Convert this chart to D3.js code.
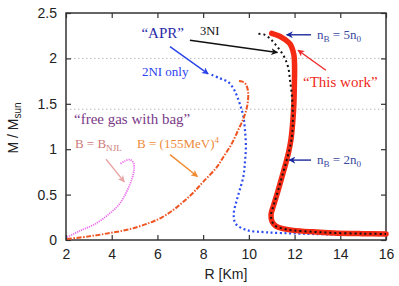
<!DOCTYPE html>
<html>
<head>
<meta charset="utf-8">
<script src="https://cdn.jsdelivr.net/npm/d3@7"></script>
<style>
  body { margin: 0; background: #fff; }
  svg text { font-family: "Liberation Sans", Arial, sans-serif; }
  .ann { font-family: "Liberation Serif", "Times New Roman", serif; }
</style>
</head>
<body>
<div class="mr-chart"></div>
<script>
// mass-radius curves, [R km, M/Msun]
var thisWork = [[11.0,2.275],[11.45,2.23],[11.8,2.16],[11.97,2.04],[12.0,1.9],[11.99,1.7],[11.97,1.5],[11.92,1.3],[11.85,1.12],[11.75,0.98],[11.6,0.83],[11.42,0.67],[11.25,0.52],[11.08,0.38],[10.97,0.28],[11.02,0.2],[11.2,0.15],[11.55,0.122],[11.95,0.106],[12.8,0.09],[13.7,0.078],[15.0,0.07],[16.0,0.066]];
var threeNI = [[10.42,2.27],[10.65,2.265],[10.92,2.22],[11.14,2.16],[11.36,2.09],[11.58,2.0],[11.73,1.89],[11.8,1.76],[11.87,1.62],[11.92,1.43],[11.92,1.25],[11.86,1.1],[11.75,0.97],[11.6,0.83],[11.42,0.67],[11.25,0.52],[11.08,0.38],[10.97,0.28],[11.02,0.2],[11.2,0.15],[11.55,0.122],[11.95,0.106],[12.8,0.09],[13.7,0.078],[15.0,0.07],[16.0,0.066]];
var twoNI = [[8.37,1.82],[8.74,1.78],[9.1,1.74],[9.32,1.67],[9.49,1.58],[9.64,1.47],[9.76,1.36],[9.83,1.21],[9.87,1.03],[9.83,0.86],[9.76,0.7],[9.6,0.55],[9.45,0.42],[9.34,0.29],[9.42,0.18],[9.9,0.11],[10.78,0.085],[12.24,0.07],[14.0,0.06],[16.0,0.055]];
var bag155 = [[2.05,0.01],[3.0,0.04],[3.92,0.077],[4.8,0.12],[5.67,0.19],[6.2,0.25],[6.69,0.33],[7.13,0.42],[7.6,0.53],[8.0,0.64],[8.59,0.8],[8.9,0.92],[9.25,1.06],[9.55,1.22],[9.78,1.35],[9.93,1.48],[9.97,1.62],[9.88,1.71],[9.72,1.745],[9.5,1.75]];
var bagNJL = [[2.05,0.03],[2.6,0.1],[3.3,0.18],[3.9,0.29],[4.35,0.4],[4.65,0.53],[4.88,0.67],[4.98,0.78],[4.95,0.85],[4.8,0.885],[4.58,0.87],[4.38,0.84]];

var xTicks = [2, 4, 6, 8, 10, 12, 14, 16];
var yTicks = [0, 0.5, 1, 1.5, 2, 2.5];
var refMasses = [2.0, 1.44];

var width = 399, height = 286;
var margin = {top: 13, right: 13, bottom: 46, left: 66};
var w = width - margin.left - margin.right,
    h = height - margin.top - margin.bottom;

var x = d3.scaleLinear().domain([2, 16]).range([0, w]);
var y = d3.scaleLinear().domain([0, 2.5]).range([h, 0]);

var svg = d3.select('.mr-chart').append('svg').attr('width', width).attr('height', height);
var defs = svg.append('defs');
function marker(id, color) {
  defs.append('marker').attr('id', id).attr('viewBox', '0 0 10 10').attr('refX', 9).attr('refY', 5)
    .attr('markerWidth', 7).attr('markerHeight', 7).attr('markerUnits', 'userSpaceOnUse').attr('orient', 'auto')
    .append('path').attr('d', 'M0,0 L10,5 L0,10 L3,5 z').attr('fill', color);
}
marker('ah-black', '#111');
marker('ah-blue', '#2a44e8');
marker('ah-navy', '#1c2a9c');
marker('ah-red', '#ee2a2a');
marker('ah-pink', '#e8a4a4');
marker('ah-orange', '#f08a30');

var g = svg.append('g').attr('transform', 'translate(' + margin.left + ',' + margin.top + ')');

// reference mass lines
g.selectAll('.ref').data(refMasses).enter().append('line')
  .attr('x1', 0).attr('x2', w).attr('y1', d => y(d)).attr('y2', d => y(d))
  .attr('stroke', '#bbb').attr('stroke-width', 1).attr('stroke-dasharray', '1.5,2.5');

// axes (inward ticks on all four sides)
g.append('g').attr('transform', 'translate(0,' + h + ')')
  .call(d3.axisBottom(x).tickValues(xTicks).tickSizeInner(-5).tickSizeOuter(0).tickPadding(9).tickFormat(d3.format('d')));
g.append('g').call(d3.axisTop(x).tickValues(xTicks).tickSizeInner(-5).tickSizeOuter(0).tickFormat(''));
g.append('g').call(d3.axisLeft(y).tickValues(yTicks).tickSizeInner(-5).tickSizeOuter(0).tickPadding(9).tickFormat(d => d));
g.append('g').attr('transform', 'translate(' + w + ',0)')
  .call(d3.axisRight(y).tickValues(yTicks).tickSizeInner(-5).tickSizeOuter(0).tickFormat(''));
g.selectAll('.domain').remove();
g.selectAll('.tick line').attr('stroke', '#333').attr('stroke-width', 1.2);
g.selectAll('.tick text').attr('font-size', 14).attr('fill', '#222');
g.append('rect').attr('width', w).attr('height', h).attr('fill', 'none').attr('stroke', '#333').attr('stroke-width', 1.5);

// curves
var line = d3.line().x(d => x(d[0])).y(d => y(d[1])).curve(d3.curveCatmullRom);
g.append('path').attr('d', line(twoNI)).attr('fill', 'none').attr('stroke', '#2c4cf0')
  .attr('stroke-width', 2.2).attr('stroke-dasharray', '2,2.6');
g.append('path').attr('d', line(bag155)).attr('fill', 'none').attr('stroke', '#ee5522')
  .attr('stroke-width', 2).attr('stroke-dasharray', '5,1.5,1.5,1.5');
g.append('path').attr('d', line(bagNJL)).attr('fill', 'none').attr('stroke', '#ec6cec')
  .attr('stroke-width', 1.8).attr('stroke-dasharray', '1.2,1');
g.append('path').attr('d', line(thisWork)).attr('fill', 'none').attr('stroke', '#f42a14')
  .attr('stroke-width', 5.5).attr('stroke-linecap', 'round');
g.append('path').attr('d', line(threeNI)).attr('fill', 'none').attr('stroke', '#111')
  .attr('stroke-width', 2).attr('stroke-dasharray', '2,3');

// annotation arrows [x1,y1,x2,y2] in data units
function arrow(p, color, mk) {
  g.append('line').attr('x1', x(p[0])).attr('y1', y(p[1])).attr('x2', x(p[2])).attr('y2', y(p[3]))
    .attr('stroke', color).attr('stroke-width', 1.4).attr('marker-end', 'url(#' + mk + ')');
}
arrow([7.42, 2.2, 11.25, 2.065], '#111', 'ah-black');
arrow([6.55, 2.13, 8.22, 1.83], '#2a44e8', 'ah-blue');
arrow([12.72, 2.26, 11.65, 2.26], '#1c2a9c', 'ah-navy');
arrow([13.37, 1.87, 12.15, 2.09], '#ee2a2a', 'ah-red');
arrow([12.72, 0.88, 11.76, 0.88], '#1c2a9c', 'ah-navy');
arrow([3.75, 0.89, 4.55, 0.64], '#e8a4a4', 'ah-pink');
arrow([6.55, 0.94, 7.75, 0.70], '#f08a30', 'ah-orange');

// annotation text
function label(r, m, size, color, parts) {
  var t = g.append('text').attr('class', 'ann').attr('x', x(r)).attr('y', y(m))
    .attr('font-size', size).attr('fill', color);
  parts.forEach(function(p) {
    var s = t.append('tspan').text(p[0]);
    if (p[1] === 'sub') s.attr('font-size', size * 0.7).attr('dy', 3);
    else if (p[1] === 'sup') s.attr('font-size', size * 0.7).attr('dy', -5);
    else if (p[1] === 'back') s.attr('dy', -3);
  });
}
label(5.3, 2.22, 15, '#2a2aa8', [['\u201cAPR\u201d']]);
label(7.86, 2.26, 12.5, '#111', [['3NI']]);
label(5.32, 1.81, 13, '#2c44ee', [['2NI only']]);
label(12.98, 2.21, 13, '#3a4aa0', [['n'], ['B', 'sub'], [' = 5n', 'back'], ['0', 'sub']]);
label(12.37, 1.685, 15, '#ee2a22', [['\u201cThis work\u201d']]);
label(12.98, 0.84, 13, '#3a4aa0', [['n'], ['B', 'sub'], [' = 2n', 'back'], ['0', 'sub']]);
label(2.35, 1.28, 15, '#7a3a88', [['\u201cfree gas with bag\u201d']]);
label(2.39, 1.01, 13, '#cc7a78', [['B = B'], ['NJL', 'sub']]);
label(5.11, 1.01, 13, '#ee8a3a', [['B = (155MeV)'], ['4', 'sup']]);

// axis titles
svg.append('text').attr('x', margin.left + x(9)).attr('y', 279).attr('text-anchor', 'middle')
  .attr('font-size', 14).attr('fill', '#222').text('R [Km]');
var yl = svg.append('text').attr('transform', 'translate(18,' + 128 + ') rotate(-90)')
  .attr('text-anchor', 'middle').attr('font-size', 14).attr('fill', '#222');
yl.append('tspan').text('M / M');
yl.append('tspan').text('sun').attr('font-size', 10).attr('dy', 3);
</script>
</body>
</html>
